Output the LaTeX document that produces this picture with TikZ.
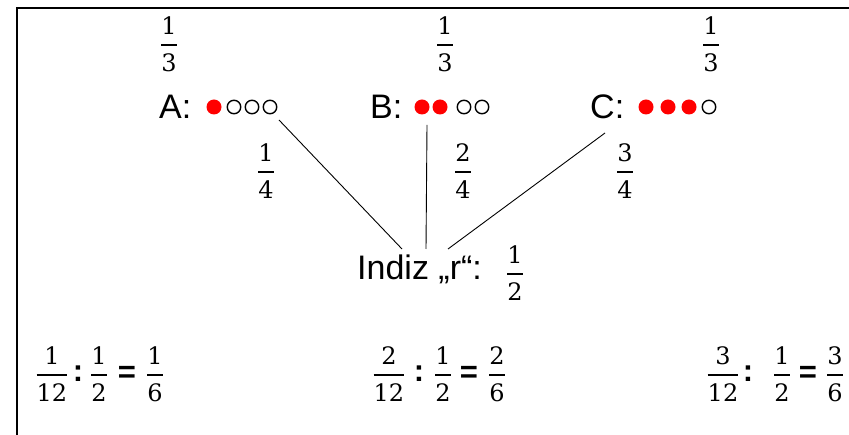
\documentclass[tikz,border=0pt]{standalone}
\usepackage{fontspec}
\usepackage{unicode-math}
\setmainfont{Liberation Sans}
\setmathfont{Latin Modern Math}
\newfontfamily\digf{DejaVu Serif}
\usetikzlibrary{calc}
\newcommand{\Fr}[2]{$\genfrac{}{}{1.8pt}{0}{\raisebox{0pt}{\digf #1}}{\raisebox{-4pt}{\digf #2}}$}
\begin{document}
\begin{tikzpicture}[x=1pt,y=-1pt,
  lab/.style={font=\fontsize{34}{39}\selectfont, inner sep=0, anchor=west},
  fr/.style={font=\fontsize{24}{28}\selectfont, inner sep=0},
  sym/.style={font=\fontsize{31}{35}\selectfont\bfseries, inner sep=0},
  rdot/.style={circle, fill=red, minimum size=15pt, inner sep=0},
  odot/.style={circle, draw, line width=1.4pt, minimum size=13.5pt, inner sep=0},
  conn/.style={line width=0.9pt}]
\useasboundingbox (0,0) rectangle (849,435);
\draw[line width=2pt] (17,445) -- (17,8) -- (860,8);

% top fractions
\node[fr] (fa) at (169,44) {\Fr{1}{3}};
\node[fr] (fb) at (445,44) {\Fr{1}{3}};
\node[fr] (fc) at (711,44) {\Fr{1}{3}};

% A
\node[lab] (la) at (159,107) {A:};
\node[rdot] (a1) at (214,107) {};
\node[odot] (a2) at (234,107) {};
\node[odot] (a3) at (252,107) {};
\node[odot] (a4) at (270,107) {};
% B
\node[lab] (lb) at (370,107) {B:};
\node[rdot] (b1) at (422,107) {};
\node[rdot] (b2) at (440,107) {};
\node[odot] (b3) at (464,107) {};
\node[odot] (b4) at (482,107) {};
% C
\node[lab] (lc) at (590,107) {C:};
\node[rdot] (c1) at (646,107) {};
\node[rdot] (c2) at (668,107) {};
\node[rdot] (c3) at (689,107) {};
\node[odot] (c4) at (709,107) {};

% branch fractions
\node[fr] (f1) at (266,171) {\Fr{1}{4}};
\node[fr] (f2) at (463,171) {\Fr{2}{4}};
\node[fr] (f3) at (625,171) {\Fr{3}{4}};

% Indiz
\node[lab] (ind) at (357,269) {Indiz „r“:};
\node[fr] (fi) at (515,273) {\Fr{1}{2}};

% connectors
\draw[conn] ($(a4)+(9,13)$) -- (402,249);
\draw[conn] ($(b1)+(5,18)$) -- (426,249);
\draw[conn] ($(lc.west)+(15,26)$) -- (448,249);

% bottom row 1
\node[fr] (r11) at (52,374) {\Fr{1}{12}};
\node[sym] (r1c) at (78,374) {:};
\node[fr] (r12) at (99,374) {\Fr{1}{2}};
\node[sym] (r1e) at (127,374) {=};
\node[fr] (r13) at (155,374) {\Fr{1}{6}};
% row 2
\node[fr] (r21) at (389,374) {\Fr{2}{12}};
\node[sym] (r2c) at (419,374) {:};
\node[fr] (r22) at (443,374) {\Fr{1}{2}};
\node[sym] (r2e) at (469,374) {=};
\node[fr] (r23) at (497,374) {\Fr{2}{6}};
% row 3
\node[fr] (r31) at (723,374) {\Fr{3}{12}};
\node[sym] (r3c) at (748,374) {:};
\node[fr] (r32) at (782,374) {\Fr{1}{2}};
\node[sym] (r3e) at (808,374) {=};
\node[fr] (r33) at (835,374) {\Fr{3}{6}};
\end{tikzpicture}
\end{document}
